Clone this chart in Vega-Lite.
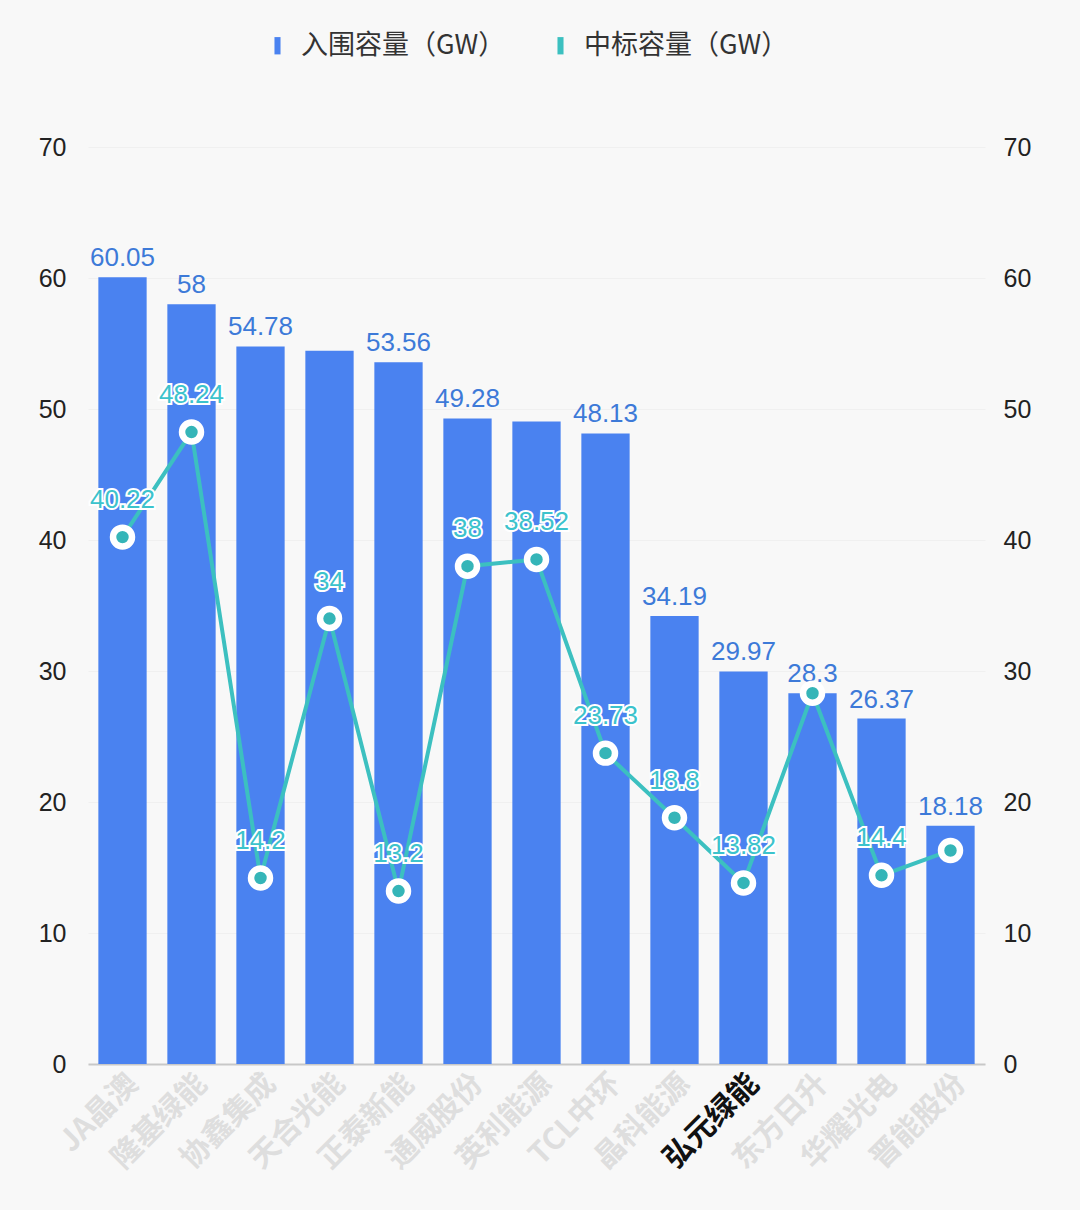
{
  "$schema": "https://vega.github.io/schema/vega-lite/v6.json",
  "width": 897,
  "height": 917,
  "autosize": {"type": "none"},
  "padding": {"left": 88, "top": 147, "right": 95, "bottom": 146},
  "background": "#f8f8f8",
  "config": {
    "view": {"stroke": null},
    "font": "Noto Sans CJK SC",
    "axis": {"labelFont": "Liberation Sans", "labelColor": "#222", "labelFontSize": 25}
  },
  "data": {
    "values": [
      {"company": "JA晶澳", "shortlisted": 60.05, "awarded": 40.22},
      {"company": "隆基绿能", "shortlisted": 58, "awarded": 48.24},
      {"company": "协鑫集成", "shortlisted": 54.78, "awarded": 14.2},
      {"company": "天合光能", "shortlisted": 54.45, "awarded": 34},
      {"company": "正泰新能", "shortlisted": 53.56, "awarded": 13.2},
      {"company": "通威股份", "shortlisted": 49.28, "awarded": 38},
      {"company": "英利能源", "shortlisted": 49.05, "awarded": 38.52},
      {"company": "TCL中环", "shortlisted": 48.13, "awarded": 23.73},
      {"company": "晶科能源", "shortlisted": 34.19, "awarded": 18.8},
      {"company": "弘元绿能", "shortlisted": 29.97, "awarded": 13.82},
      {"company": "东方日升", "shortlisted": 28.3, "awarded": 28.3},
      {"company": "华耀光电", "shortlisted": 26.37, "awarded": 14.4},
      {"company": "晋能股份", "shortlisted": 18.18, "awarded": 16.3}
    ]
  },
  "encoding": {
    "x": {
      "field": "company", "type": "nominal", "sort": null,
      "scale": {"paddingInner": 0.3, "paddingOuter": 0.15}
    }
  },
  "resolve": {"axis": {"y": "independent"}},
  "layer": [
    {
      "mark": {"type": "bar", "color": "#4a82f0"},
      "encoding": {
        "x": {
          "field": "company", "type": "nominal", "sort": null,
          "axis": {
            "title": null, "labelAngle": -45, "labelAlign": "right", "labelBaseline": "top",
            "labelFont": "Noto Sans CJK SC",
            "labelFontSize": 30, "labelPadding": 4, "ticks": false,
            "domainColor": "#c8c8c8", "domainWidth": 2,
            "labelColor": {"expr": "datum.value == '弘元绿能' ? '#111111' : '#dedede'"},
            "labelFontWeight": "bold"
          }
        },
        "y": {
          "field": "shortlisted", "type": "quantitative",
          "scale": {"domain": [0, 70]},
          "axis": {
            "title": null, "orient": "left", "values": [0, 10, 20, 30, 40, 50, 60, 70],
            "domain": false, "ticks": false, "labelPadding": 22,
            "gridColor": "#f0f0f0", "gridWidth": 1
          }
        },
        "color": {
          "datum": "入围容量（GW）", "type": "nominal",
          "scale": {"domain": ["入围容量（GW）", "中标容量（GW）"], "range": ["#4a82f0", "#3cc0c0"]},
          "legend": {
            "title": null, "orient": "none", "direction": "horizontal",
            "legendX": 176, "legendY": -115,
            "labelFontSize": 27, "labelColor": "#333", "labelFont": "Noto Sans CJK SC",
            "labelLimit": 0,
            "symbolType": "M-0.35,-1H0.35V1H-0.35Z", "symbolSize": 300,
            "symbolStrokeWidth": 0, "labelOffset": 10, "columnPadding": 41
          }
        }
      }
    },
    {
      "transform": [{"filter": "datum.company != '天合光能' && datum.company != '英利能源'"}],
      "mark": {"type": "text", "baseline": "bottom", "dy": -6, "fontSize": 26, "font": "Liberation Sans", "color": "#3d7ad8"},
      "encoding": {
        "y": {"field": "shortlisted", "type": "quantitative", "scale": {"domain": [0, 70]}, "axis": null},
        "text": {"field": "shortlisted", "type": "quantitative"}
      }
    },
    {
      "mark": {"type": "line", "strokeWidth": 4},
      "encoding": {
        "y": {
          "field": "awarded", "type": "quantitative", "scale": {"domain": [0, 70]},
          "axis": {
            "title": null, "orient": "right", "values": [0, 10, 20, 30, 40, 50, 60, 70],
            "domain": false, "ticks": false, "grid": false, "labelPadding": 18
          }
        },
        "color": {"datum": "中标容量（GW）", "type": "nominal"}
      }
    },
    {
      "mark": {"type": "point", "filled": true, "fill": "#35b5b8", "stroke": "#ffffff", "strokeWidth": 6.5, "size": 360, "opacity": 1},
      "encoding": {
        "y": {"field": "awarded", "type": "quantitative", "scale": {"domain": [0, 70]}, "axis": null}
      }
    },
    {
      "transform": [{"filter": "datum.company != '东方日升' && datum.company != '晋能股份'"}],
      "mark": {"type": "text", "baseline": "bottom", "dy": -24, "fontSize": 26, "font": "Liberation Sans", "stroke": "#ffffff", "strokeWidth": 4, "fill": "#ffffff"},
      "encoding": {
        "y": {"field": "awarded", "type": "quantitative", "scale": {"domain": [0, 70]}, "axis": null},
        "text": {"field": "awarded", "type": "quantitative"}
      }
    },
    {
      "transform": [{"filter": "datum.company != '东方日升' && datum.company != '晋能股份'"}],
      "mark": {"type": "text", "baseline": "bottom", "dy": -24, "fontSize": 26, "font": "Liberation Sans", "fill": "#3cc3cc"},
      "encoding": {
        "y": {"field": "awarded", "type": "quantitative", "scale": {"domain": [0, 70]}, "axis": null},
        "text": {"field": "awarded", "type": "quantitative"}
      }
    }
  ]
}
